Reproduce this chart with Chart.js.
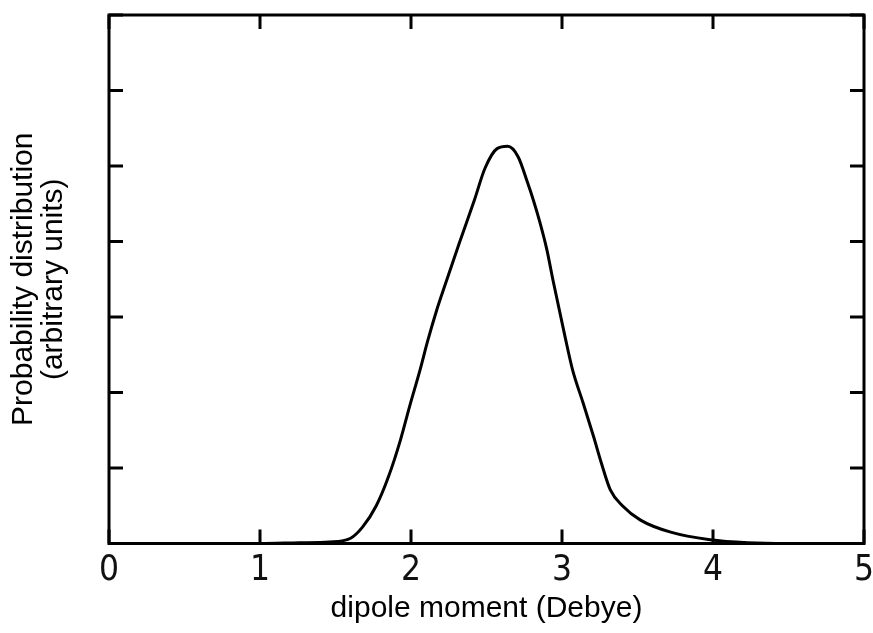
<!DOCTYPE html>
<html>
<head>
<meta charset="utf-8">
<script src="https://cdn.jsdelivr.net/npm/chart.js@4/dist/chart.umd.min.js"></script>
<style>
  html,body{margin:0;padding:0;background:#fff;}
  #wrap{width:873px;height:633px;}
</style>
</head>
<body>
<div id="wrap"><canvas id="distChart" width="873" height="633"></canvas></div>
<script>
// dipole moment (Debye) vs probability (arbitrary units)
const dipole = [0, 1.0, 1.26, 1.46, 1.60, 1.68, 1.77, 1.85, 1.93, 1.99, 2.06, 2.11, 2.17, 2.23, 2.32, 2.42, 2.49, 2.57, 2.64,
                2.71, 2.77, 2.81, 2.85, 2.90, 2.94, 3.02, 3.07, 3.14, 3.21, 3.26, 3.32, 3.40, 3.52, 3.72, 3.98, 4.23, 4.5, 5.0];
const prob   = [0, 0, 0.01, 0.02, 0.07, 0.22, 0.50, 0.88, 1.37, 1.81, 2.30, 2.68, 3.09, 3.45, 3.98, 4.55, 4.97, 5.23, 5.26,
                5.12, 4.79, 4.55, 4.28, 3.89, 3.49, 2.74, 2.30, 1.86, 1.41, 1.07, 0.71, 0.50, 0.31, 0.15, 0.05, 0.01, 0, 0];
const xTickLabels = ['0', '1', '2', '3', '4', '5'];
const yTicks = [0, 1, 2, 3, 4, 5, 6, 7];   // unlabelled ticks

const points = dipole.map((d, i) => ({x: d, y: prob[i]}));

// frame + inward ticks on all four sides
const frameTicks = {
  id: 'frameTicks',
  afterDatasetsDraw(chart){
    const {ctx, chartArea: a, scales: {x, y}} = chart;
    const len = 14;
    ctx.save();
    ctx.strokeStyle = '#000';
    ctx.lineWidth = 3;
    ctx.lineCap = 'butt';
    ctx.beginPath();
    xTickLabels.forEach((t, i) => {
      const px = x.getPixelForValue(i);
      ctx.moveTo(px, a.bottom); ctx.lineTo(px, a.bottom - len);
      ctx.moveTo(px, a.top); ctx.lineTo(px, a.top + len);
    });
    yTicks.forEach(v => {
      const py = y.getPixelForValue(v);
      ctx.moveTo(a.left, py); ctx.lineTo(a.left + len, py);
      ctx.moveTo(a.right, py); ctx.lineTo(a.right - len, py);
    });
    ctx.stroke();
    ctx.lineJoin = 'miter';
    ctx.strokeRect(a.left, a.top, a.right - a.left, a.bottom - a.top);
    ctx.restore();
  }
};

const ctx = document.getElementById('distChart').getContext('2d');
const distChart = new Chart(ctx, {
  type: 'line',
  data: {
    datasets: [{
      data: points,
      borderColor: '#000',
      borderWidth: 3,
      pointRadius: 0,
      fill: false,
      cubicInterpolationMode: 'monotone'
    }]
  },
  options: {
    responsive: false,
    animation: false,
    layout: {padding: {left: 0, top: 15, right: 9, bottom: 0}},
    plugins: {legend: {display: false}, tooltip: {enabled: false}},
    scales: {
      x: {
        type: 'linear',
        min: 0, max: 5,
        grid: {display: false, drawTicks: false},
        border: {display: false},
        ticks: {
          stepSize: 1,
          padding: 6,
          color: '#111',
          font: {family: "'Liberation Sans Narrow', 'DejaVu Sans Condensed', sans-serif", size: 35},
          callback: (v) => xTickLabels[v]
        },
        title: {
          display: true,
          text: 'dipole moment (Debye)',
          color: '#000',
          font: {family: "'Liberation Sans', Arial, sans-serif", size: 30},
          padding: {top: 0, bottom: 6}
        },
        afterFit(scale){
          scale.height = 89.5;
          scale.paddingLeft = 0;
          scale.paddingRight = 0;
        }
      },
      y: {
        min: 0, max: 7,
        grid: {display: false, drawTicks: false},
        border: {display: false},
        ticks: {display: false, stepSize: 1},
        title: {
          display: true,
          text: ['Probability distribution', '(arbitrary units)'],
          color: '#000',
          font: {family: "'Liberation Sans', Arial, sans-serif", size: 30, lineHeight: 1.0},
          padding: {top: 9, bottom: 0}
        },
        afterFit(scale){
          scale.width = 109;
        }
      }
    }
  },
  plugins: [frameTicks]
});
</script>
</body>
</html>
